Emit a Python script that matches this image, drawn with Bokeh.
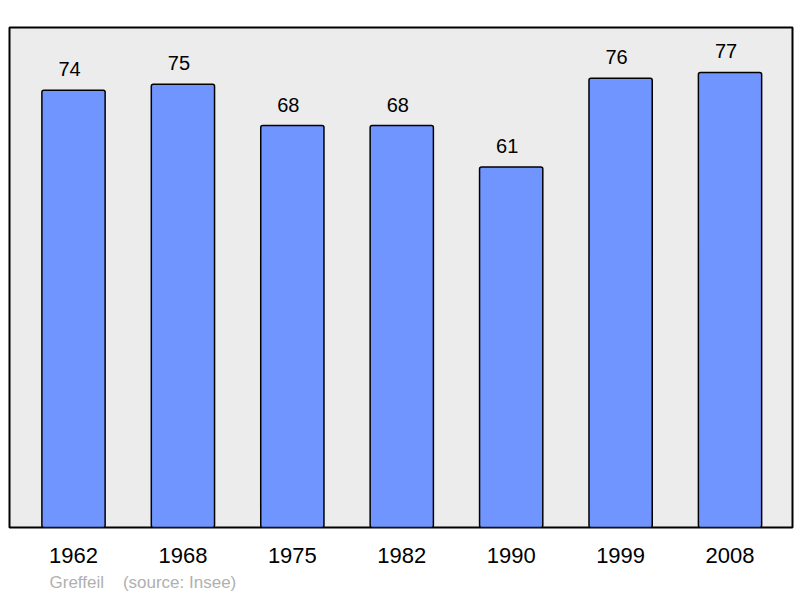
from bokeh.plotting import figure
from bokeh.models import ColumnDataSource, FixedTicker, Range1d, Title
from bokeh.embed import file_html
from bokeh.resources import INLINE
from bokeh.core.properties import value

years = ["1962", "1968", "1975", "1982", "1990", "1999", "2008"]
population = [74, 75, 68, 68, 61, 76, 77]
footer = "Greffeil\u00a0\u00a0\u00a0\u00a0(source: Insee)"

xs = list(range(len(years)))
labels = [str(v) for v in population]
src = ColumnDataSource(dict(x=xs, top=population, label=labels))

p = figure(width=794, height=596, output_backend="svg", toolbar_location=None,
           x_range=Range1d(-0.585, 6.571), y_range=Range1d(0, 84.6),
           min_border_left=9, min_border_top=27, min_border_right=2,
           min_border_bottom=68)
p.background_fill_color = "#ececec"
p.border_fill_color = "white"
p.outline_line_color = "black"
p.outline_line_width = 2
p.xgrid.visible = False
p.ygrid.visible = False
p.yaxis.visible = False

p.vbar(x="x", top="top", width=0.578, bottom=0, source=src,
       fill_color="#7095ff", line_color="black", line_width=1.5,
       border_radius=2)

p.text(x="x", y="top", text="label", source=src, text_align="center",
       text_baseline="bottom", y_offset=-14, x_offset=-4,
       text_font=value("Liberation Sans"),
       text_font_size="20px", text_color="black")

ax = p.xaxis[0]
ax.ticker = FixedTicker(ticks=xs)
ax.major_label_overrides = {i: y for i, y in enumerate(years)}
ax.axis_line_color = None
ax.major_tick_line_color = None
ax.minor_tick_line_color = None
ax.major_label_standoff = 14
ax.major_label_text_font = "Liberation Sans"
ax.major_label_text_font_size = "22px"
ax.major_label_text_color = "black"

p.add_layout(Title(text=footer, align="left", offset=40, standoff=10,
                   text_font="Liberation Sans", text_font_size="17px",
                   text_font_style="normal", text_color="#b0b0b0"), "below")

open("out.html", "w").write(file_html(p, INLINE))
